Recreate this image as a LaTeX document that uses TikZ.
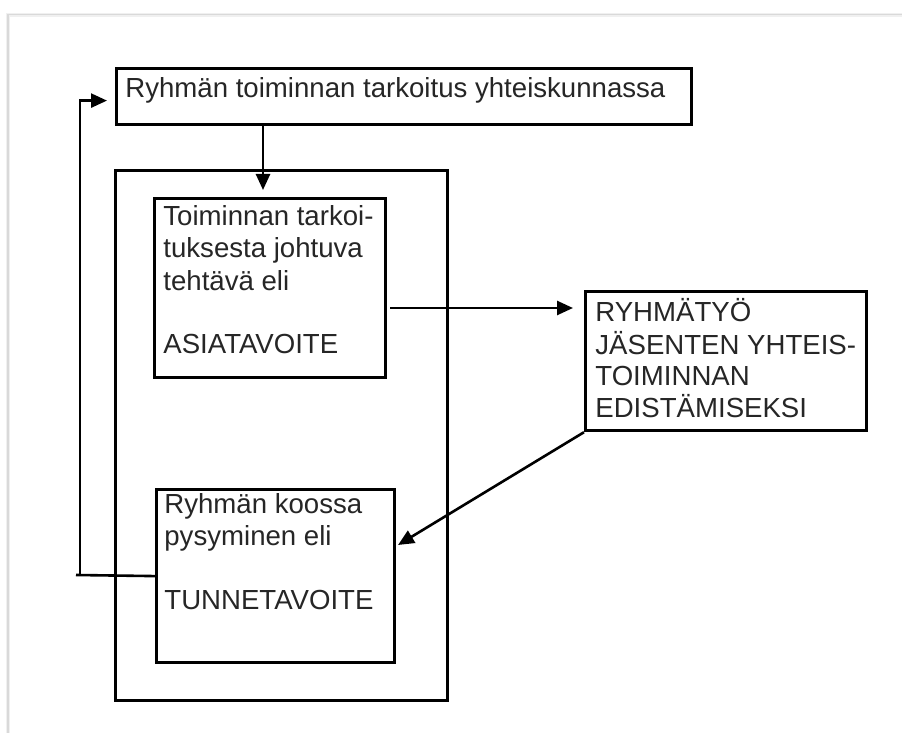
\documentclass[tikz,border=0pt]{standalone}
\usepackage{fontspec}
\setmainfont{Liberation Sans}
\usetikzlibrary{arrows.meta,positioning}
\tikzset{
  box/.style={draw,line width=1.6pt,inner sep=0pt,anchor=north west},
  txt/.style={anchor=base west,inner sep=0pt,align=left,text=black!85,font=\fontsize{13.8}{16}\selectfont},
  arr/.style={line width=1.3pt,-{Triangle[length=8pt,width=7pt]}}
}
\begin{document}
\begin{tikzpicture}[x=0.5pt,y=-0.5pt]
\useasboundingbox (0,0) rectangle (902,733);
\fill[white] (0,0) rectangle (902,733);
% page edge
\draw[gray!12,line width=2pt] (8,733) -- (8,15) -- (902,15);
\draw[gray!30,line width=0.5pt] (8,733) -- (8,15) -- (902,15);
% boxes (texts placed by their last baseline)
\node[box,minimum width=287.5pt,minimum height=28pt] (purpose) at (115,67) {};
\node[txt] (purposetxt) at (125,98) {Ryhmän toiminnan tarkoitus yhteiskunnassa};
\node[box,minimum width=166pt,minimum height=265pt] (frame) at (114,169) {};
\node[box,minimum width=115.5pt,minimum height=89.5pt] (asia) at (153,197) {};
\node[txt] (asiatxt) at (163,354) {Toiminnan tarkoi-\\tuksesta johtuva\\tehtävä eli\\[16pt]ASIATAVOITE};
\node[box,minimum width=140.5pt,minimum height=69.5pt] (ryhma) at (584,290) {};
\node[txt] (ryhmatxt) at (595,418) {RYHMÄTYÖ\\JÄSENTEN YHTEIS-\\TOIMINNAN\\EDISTÄMISEKSI};
\node[box,minimum width=119pt,minimum height=86.5pt] (tunne) at (155,488) {};
\node[txt] (tunnetxt) at (164,610) {Ryhmän koossa\\pysyminen eli\\[16pt]TUNNETAVOITE};
% connectors
\coordinate (dropend) at (263,190);
\draw[arr] (purpose.south -| dropend) -- (dropend);
\coordinate (handoff) at (390,308);
\draw[arr,shorten >=5.5pt] (handoff) -- (ryhma.west |- handoff);
\coordinate (tunnetip) at (398,545);
\draw[arr] (ryhma.south west) -- (tunnetip);
\coordinate (loopx) at (80,575);
\draw[line width=1.3pt] (tunne.west) -- ([xshift=-2pt]loopx);
\draw[arr,shorten >=4pt] (loopx) |- ([yshift=-2pt]purpose.west);
\end{tikzpicture}
\end{document}
